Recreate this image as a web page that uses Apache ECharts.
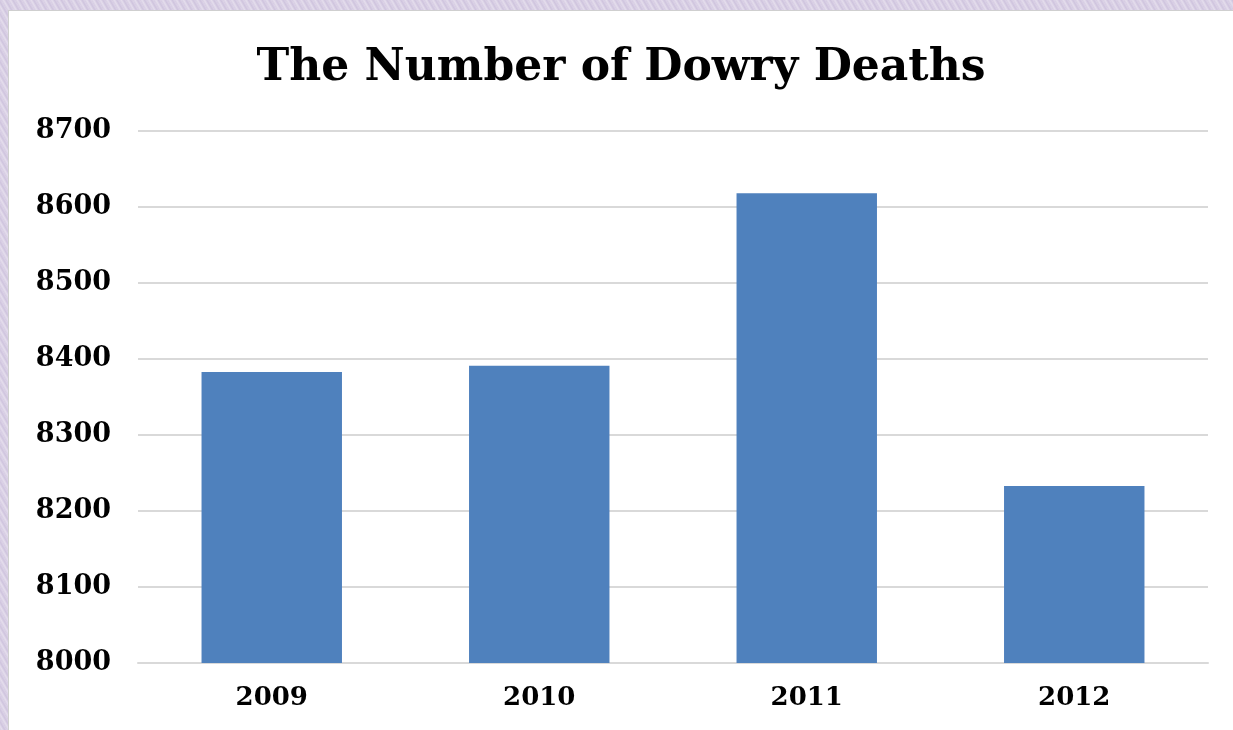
<!DOCTYPE html>
<html>
<head>
<meta charset="utf-8">
<script src="https://cdn.jsdelivr.net/npm/echarts@6/dist/echarts.min.js"></script>
<style>
html,body{margin:0;padding:0;width:1233px;height:730px;overflow:hidden;
  background:repeating-linear-gradient(60deg,#d6cce3 0px,#e4ddec 2px,#cfc4de 4px,#dcd3e7 6px);}
#c{position:absolute;left:8px;top:10px;width:1225px;height:720px;background:#fff;border-left:1px solid #cfcfcf;border-top:1px solid #cfcfcf;box-sizing:border-box;}
</style>
</head>
<body>
<div id="c"></div>
<script>
const categories = ['2009','2010','2011','2012'];
const deaths = [8383, 8391, 8618, 8233];
const yTicks = [8000, 8700, 100];

const chart = echarts.init(document.getElementById('c'));
const font = '"DejaVu Serif", serif';
chart.setOption({
  animation: false,
  title: {
    text: 'The Number of Dowry Deaths',
    left: 'center',
    top: 31,
    textStyle: {fontFamily: font, fontWeight: 'bold', fontSize: 44, color: '#000'}
  },
  grid: {left: 129, right: 25, top: 120, bottom: 67, containLabel: false},
  xAxis: {
    type: 'category',
    data: categories,
    axisLine: {show: true, lineStyle: {color: '#d9d9d9', width: 2}},
    axisTick: {show: false},
    axisLabel: {fontFamily: font, fontWeight: 'bold', fontSize: 26, color: '#000', margin: 22}
  },
  yAxis: {
    type: 'value',
    min: yTicks[0], max: yTicks[1], interval: yTicks[2],
    axisLine: {show: false},
    axisTick: {show: false},
    splitLine: {lineStyle: {color: '#d9d9d9', width: 2}},
    axisLabel: {fontFamily: font, fontWeight: 'bold', fontSize: 27, color: '#000', margin: 27,
      formatter: v => String(v)}
  },
  series: [{
    type: 'bar',
    data: deaths,
    barWidth: '52.5%',
    itemStyle: {color: '#4f81bd'}
  }]
});
</script>
</body>
</html>
